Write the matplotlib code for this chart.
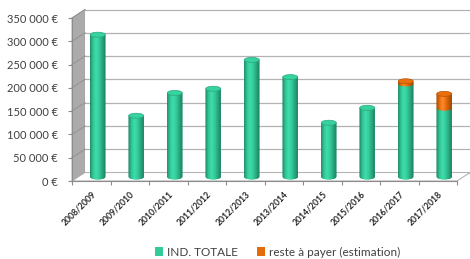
import numpy as np
import matplotlib
matplotlib.use("Agg")
import matplotlib.pyplot as plt
from matplotlib.collections import PolyCollection
from matplotlib.colors import LinearSegmentedColormap
from matplotlib.patches import Polygon, Ellipse, Patch

plt.rcParams['font.family'] = ['Lato', 'DejaVu Sans']

# data
seasons = ["2008/2009", "2009/2010", "2010/2011", "2011/2012", "2012/2013",
           "2013/2014", "2014/2015", "2015/2016", "2016/2017", "2017/2018"]
ind_totale = [305000, 131000, 180000, 189000, 251000, 214000, 116000, 148000, 200000, 148000]
reste_a_payer = [0, 0, 0, 0, 0, 0, 0, 0, 5000, 30000]
y_ticks = [0, 50000, 100000, 150000, 200000, 250000, 300000, 350000]

GREEN_TOP = "#36d3a0"
ORANGE_TOP = "#e8700f"
green_cmap = LinearSegmentedColormap.from_list(
    "g", ["#1d8766", "#2ec594", "#3ddcab", "#33cd9b", "#27ab81", "#1c8464"])
orange_cmap = LinearSegmentedColormap.from_list(
    "o", ["#a84a00", "#e36a0a", "#ff8a2a", "#ef700c", "#c85a00", "#9c4500"])

fig = plt.figure(figsize=(4.7, 2.59), dpi=100)
ax = fig.add_axes([72 / 470, 78 / 259, 385 / 470, 163 / 259])
ax.set_xlim(-0.5, len(seasons) - 0.5)
ax.set_ylim(0, 350000)

# depth of the fake 3d box, in data units
px_x = 38.5          # pixels per category
px_y = 163 / 350000  # pixels per euro
dx = 13 / px_x
dy = 8.5 / px_y
bar_w = 15 / px_x
ell_h = 5 / px_y

x0, x1 = -0.5, len(seasons) - 0.5
ymax = 350000

# side wall
ax.add_patch(Polygon([(x0, 0), (x0, ymax), (x0 + dx, ymax + dy), (x0 + dx, dy)],
                     closed=True, facecolor="#ababab", edgecolor="#a0a0a0",
                     lw=0.6, clip_on=False, zorder=1))
# back wall
ax.add_patch(Polygon([(x0 + dx, dy), (x0 + dx, ymax + dy), (x1 + dx, ymax + dy), (x1 + dx, dy)],
                     closed=True, facecolor="white", edgecolor="none",
                     clip_on=False, zorder=1))
# floor
ax.add_patch(Polygon([(x0, 0), (x1, 0), (x1 + dx, dy), (x0 + dx, dy)],
                     closed=True, facecolor="white", edgecolor="#b5b5b5",
                     lw=0.8, clip_on=False, zorder=1.5))

for v in y_ticks:
    ax.plot([x0 + dx, x1 + dx], [v + dy, v + dy], color="#b3b3b3", lw=0.9,
            clip_on=False, zorder=1.2)
    ax.plot([x0, x0 + dx], [v, v + dy], color="#959595", lw=0.8,
            clip_on=False, zorder=1.2)


def cylinder_part(xc, lo, hi, cmap, n=30):
    polys, cols = [], []
    u = np.linspace(0, 1, n + 1)
    xs = xc - bar_w / 2 + u * bar_w
    curve = (ell_h / 2) * np.sqrt(np.clip(1 - (2 * u - 1) ** 2, 0, 1))
    for j in range(n):
        polys.append([(xs[j], lo - curve[j]), (xs[j + 1], lo - curve[j + 1]),
                      (xs[j + 1], hi), (xs[j], hi)])
        cols.append(cmap((j + 0.5) / n))
    ax.add_collection(PolyCollection(polys, facecolors=cols, edgecolors=cols,
                                     lw=0.3, zorder=3, clip_on=False))


for i, (g, o) in enumerate(zip(ind_totale, reste_a_payer)):
    xc = i + dx / 2
    base = dy / 2
    cylinder_part(xc, base, base + g, green_cmap)
    top, top_col, top_edge = base + g, GREEN_TOP, "#2aa880"
    if o > 0:
        cylinder_part(xc, base + g, base + g + o, orange_cmap)
        top, top_col, top_edge = base + g + o, ORANGE_TOP, "#b85200"
    ax.add_patch(Ellipse((xc, top), bar_w, ell_h, facecolor=top_col,
                         edgecolor=top_edge, lw=0.5, zorder=4, clip_on=False))

# axes
for s in ["top", "right"]:
    ax.spines[s].set_visible(False)
ax.spines["left"].set_color("#8c8c8c")
ax.spines["bottom"].set_color("#8c8c8c")
ax.spines["left"].set_linewidth(0.8)
ax.spines["bottom"].set_linewidth(0.8)
ax.set_yticks(y_ticks)
ax.set_yticklabels([f"{v:,}".replace(",", " ") + " €" for v in y_ticks])
ax.tick_params(axis="y", length=3, width=0.8, color="#8c8c8c", pad=7,
               labelsize=8, labelcolor="#404040")
ax.set_xticks(range(len(seasons)))
ax.set_xticklabels(seasons, rotation=45, ha="right", rotation_mode="anchor",
                   fontsize=6.2, fontweight="bold", color="#262626")
ax.set_xticks(np.arange(-0.5, len(seasons)), minor=True)
ax.tick_params(axis="x", which="major", length=0, pad=6)
ax.tick_params(axis="x", which="minor", length=3, width=0.8, color="#8c8c8c")

fig.legend(handles=[Patch(facecolor="#33cc99", label="IND. TOTALE"),
                    Patch(facecolor="#e46c0a", label="reste à payer (estimation)")],
           loc="center", bbox_to_anchor=(277.5 / 470, 7 / 259), ncol=2,
           frameon=False, fontsize=8.5, handlelength=0.7, handleheight=0.7,
           handletextpad=0.3, columnspacing=1.6, labelcolor="#404040")

fig.savefig("out.png", dpi=100)
